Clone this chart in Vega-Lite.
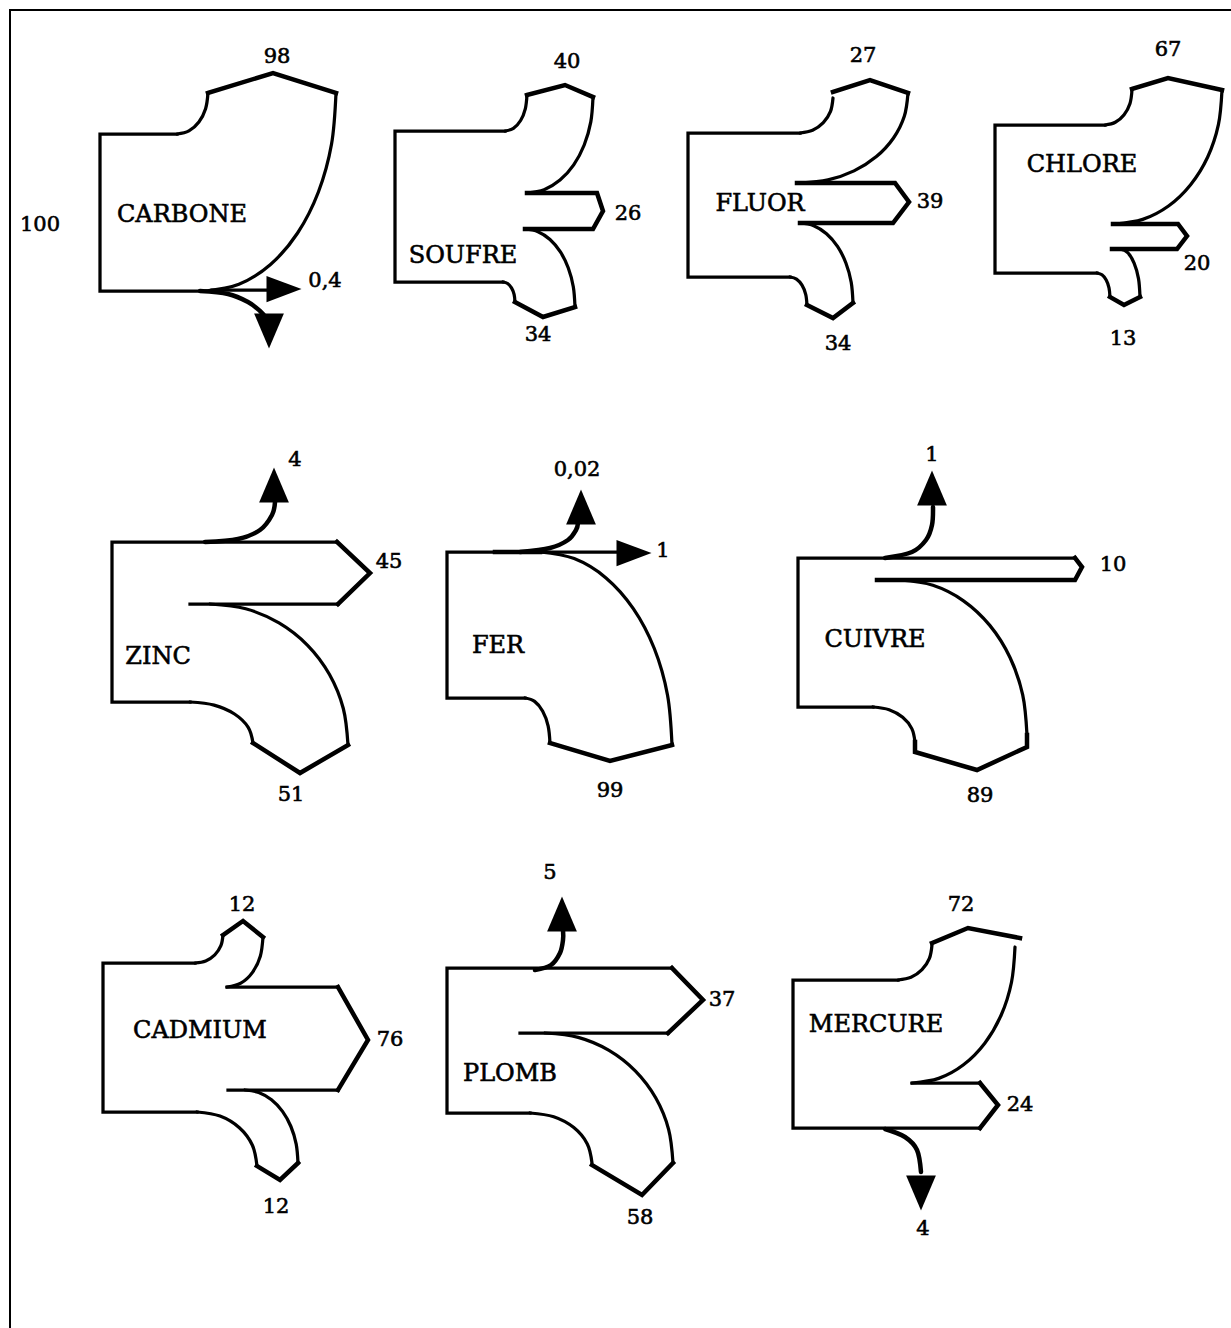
{
  "$schema": "https://vega.github.io/schema/vega-lite/v6.json",
  "width": 1231,
  "height": 1328,
  "autosize": "none",
  "padding": 0,
  "background": "white",
  "config": {"view": {"stroke": null}},
  "datasets": {
    "edges": [
      {"id":"fr","r":"frame","o":1,"x":10,"y":1328},{"id":"fr","r":"frame","o":2,"x":10,"y":10},{"id":"fr","r":"frame","o":3,"x":1231,"y":10},

      {"id":"c1","r":"body","o":1,"x":177,"y":134},{"id":"c1","r":"body","o":2,"x":100,"y":134},{"id":"c1","r":"body","o":3,"x":100,"y":291},{"id":"c1","r":"body","o":4,"x":205,"y":291},
      {"id":"c2","r":"flow","o":1,"x":208,"y":93},{"id":"c2","r":"flow","o":2,"x":273,"y":73},{"id":"c2","r":"flow","o":3,"x":336,"y":93},
      {"id":"c3","r":"body","o":1,"x":212,"y":290},{"id":"c3","r":"body","o":2,"x":280,"y":290},

      {"id":"s1","r":"body","o":1,"x":503,"y":282},{"id":"s1","r":"body","o":2,"x":395,"y":282},{"id":"s1","r":"body","o":3,"x":395,"y":131},{"id":"s1","r":"body","o":4,"x":505,"y":131},
      {"id":"s2","r":"flow","o":1,"x":527,"y":95},{"id":"s2","r":"flow","o":2,"x":565,"y":85},{"id":"s2","r":"flow","o":3,"x":593,"y":97},
      {"id":"s3","r":"flow","o":1,"x":527,"y":193},{"id":"s3","r":"flow","o":2,"x":597,"y":193},{"id":"s3","r":"flow","o":3,"x":603,"y":211},{"id":"s3","r":"flow","o":4,"x":593,"y":229},{"id":"s3","r":"flow","o":5,"x":525,"y":229},
      {"id":"s4","r":"flow","o":1,"x":575,"y":307},{"id":"s4","r":"flow","o":2,"x":543,"y":317},{"id":"s4","r":"flow","o":3,"x":515,"y":302},

      {"id":"f1","r":"body","o":1,"x":790,"y":277},{"id":"f1","r":"body","o":2,"x":688,"y":277},{"id":"f1","r":"body","o":3,"x":688,"y":133},{"id":"f1","r":"body","o":4,"x":800,"y":133},
      {"id":"f2","r":"flow","o":1,"x":833,"y":92},{"id":"f2","r":"flow","o":2,"x":870,"y":80},{"id":"f2","r":"flow","o":3,"x":908,"y":93},
      {"id":"f3","r":"flow","o":1,"x":797,"y":183},{"id":"f3","r":"flow","o":2,"x":895,"y":183},{"id":"f3","r":"flow","o":3,"x":909,"y":202},{"id":"f3","r":"flow","o":4,"x":893,"y":223},{"id":"f3","r":"flow","o":5,"x":800,"y":223},
      {"id":"f4","r":"flow","o":1,"x":853,"y":303},{"id":"f4","r":"flow","o":2,"x":833,"y":318},{"id":"f4","r":"flow","o":3,"x":807,"y":305},

      {"id":"h1","r":"body","o":1,"x":1097,"y":273},{"id":"h1","r":"body","o":2,"x":995,"y":273},{"id":"h1","r":"body","o":3,"x":995,"y":125},{"id":"h1","r":"body","o":4,"x":1105,"y":125},
      {"id":"h2","r":"flow","o":1,"x":1132,"y":89},{"id":"h2","r":"flow","o":2,"x":1168,"y":78},{"id":"h2","r":"flow","o":3,"x":1222,"y":90},
      {"id":"h3","r":"flow","o":1,"x":1113,"y":224},{"id":"h3","r":"flow","o":2,"x":1178,"y":224},{"id":"h3","r":"flow","o":3,"x":1187,"y":236},{"id":"h3","r":"flow","o":4,"x":1177,"y":249},{"id":"h3","r":"flow","o":5,"x":1112,"y":249},
      {"id":"h4","r":"flow","o":1,"x":1140,"y":297},{"id":"h4","r":"flow","o":2,"x":1124,"y":305},{"id":"h4","r":"flow","o":3,"x":1110,"y":297},

      {"id":"z1","r":"body","o":1,"x":190,"y":702},{"id":"z1","r":"body","o":2,"x":112,"y":702},{"id":"z1","r":"body","o":3,"x":112,"y":542},{"id":"z1","r":"body","o":4,"x":337,"y":542},
      {"id":"z2","r":"flow","o":1,"x":337,"y":542},{"id":"z2","r":"flow","o":2,"x":370,"y":573},{"id":"z2","r":"flow","o":3,"x":338,"y":604},
      {"id":"z3","r":"body","o":1,"x":338,"y":604},{"id":"z3","r":"body","o":2,"x":190,"y":604},
      {"id":"z4","r":"flow","o":1,"x":348,"y":745},{"id":"z4","r":"flow","o":2,"x":300,"y":773},{"id":"z4","r":"flow","o":3,"x":253,"y":743},

      {"id":"e1","r":"body","o":1,"x":525,"y":698},{"id":"e1","r":"body","o":2,"x":447,"y":698},{"id":"e1","r":"body","o":3,"x":447,"y":552},{"id":"e1","r":"body","o":4,"x":540,"y":552},
      {"id":"e2","r":"flow","o":1,"x":495,"y":552},{"id":"e2","r":"flow","o":2,"x":540,"y":552},
      {"id":"e3","r":"body","o":1,"x":535,"y":552},{"id":"e3","r":"body","o":2,"x":622,"y":552},
      {"id":"e4","r":"flow","o":1,"x":672,"y":745},{"id":"e4","r":"flow","o":2,"x":610,"y":761},{"id":"e4","r":"flow","o":3,"x":550,"y":743},

      {"id":"u1","r":"body","o":1,"x":873,"y":707},{"id":"u1","r":"body","o":2,"x":798,"y":707},{"id":"u1","r":"body","o":3,"x":798,"y":558},{"id":"u1","r":"body","o":4,"x":1075,"y":558},
      {"id":"u2","r":"flow","o":1,"x":1075,"y":558},{"id":"u2","r":"flow","o":2,"x":1082,"y":567},{"id":"u2","r":"flow","o":3,"x":1075,"y":580},{"id":"u2","r":"flow","o":4,"x":877,"y":580},
      {"id":"u3","r":"flow","o":1,"x":1027,"y":735},{"id":"u3","r":"flow","o":2,"x":1027,"y":747},{"id":"u3","r":"flow","o":3,"x":977,"y":770},{"id":"u3","r":"flow","o":4,"x":915,"y":752},{"id":"u3","r":"flow","o":5,"x":915,"y":742},

      {"id":"d1","r":"body","o":1,"x":197,"y":1112},{"id":"d1","r":"body","o":2,"x":103,"y":1112},{"id":"d1","r":"body","o":3,"x":103,"y":963},{"id":"d1","r":"body","o":4,"x":195,"y":963},
      {"id":"d2","r":"flow","o":1,"x":223,"y":935},{"id":"d2","r":"flow","o":2,"x":243,"y":921},{"id":"d2","r":"flow","o":3,"x":263,"y":937},
      {"id":"d3","r":"body","o":1,"x":227,"y":987},{"id":"d3","r":"body","o":2,"x":338,"y":987},
      {"id":"d4","r":"flow","o":1,"x":338,"y":987},{"id":"d4","r":"flow","o":2,"x":368,"y":1040},{"id":"d4","r":"flow","o":3,"x":338,"y":1090},
      {"id":"d5","r":"body","o":1,"x":338,"y":1090},{"id":"d5","r":"body","o":2,"x":228,"y":1090},
      {"id":"d6","r":"flow","o":1,"x":298,"y":1163},{"id":"d6","r":"flow","o":2,"x":280,"y":1180},{"id":"d6","r":"flow","o":3,"x":257,"y":1166},

      {"id":"p1","r":"body","o":1,"x":530,"y":1113},{"id":"p1","r":"body","o":2,"x":447,"y":1113},{"id":"p1","r":"body","o":3,"x":447,"y":968},{"id":"p1","r":"body","o":4,"x":672,"y":968},
      {"id":"p2","r":"flow","o":1,"x":672,"y":968},{"id":"p2","r":"flow","o":2,"x":703,"y":1000},{"id":"p2","r":"flow","o":3,"x":668,"y":1033},
      {"id":"p3","r":"body","o":1,"x":668,"y":1033},{"id":"p3","r":"body","o":2,"x":520,"y":1033},
      {"id":"p4","r":"flow","o":1,"x":673,"y":1163},{"id":"p4","r":"flow","o":2,"x":642,"y":1195},{"id":"p4","r":"flow","o":3,"x":592,"y":1165},

      {"id":"m1","r":"body","o":1,"x":898,"y":980},{"id":"m1","r":"body","o":2,"x":793,"y":980},{"id":"m1","r":"body","o":3,"x":793,"y":1128},{"id":"m1","r":"body","o":4,"x":980,"y":1128},
      {"id":"m2","r":"flow","o":1,"x":932,"y":943},{"id":"m2","r":"flow","o":2,"x":968,"y":928},{"id":"m2","r":"flow","o":3,"x":1020,"y":938},
      {"id":"m3","r":"body","o":1,"x":912,"y":1083},{"id":"m3","r":"body","o":2,"x":980,"y":1083},
      {"id":"m4","r":"flow","o":1,"x":980,"y":1083},{"id":"m4","r":"flow","o":2,"x":998,"y":1105},{"id":"m4","r":"flow","o":3,"x":980,"y":1128}
    ],
    "arcs": [
      {"id":"ca1","r":"body","o":1,"x":177,"y":134},{"id":"ca1","r":"body","o":2,"x":188.9,"y":130.9},{"id":"ca1","r":"body","o":3,"x":198.9,"y":122},{"id":"ca1","r":"body","o":4,"x":205.6,"y":108.7},{"id":"ca1","r":"body","o":5,"x":208,"y":93},
      {"id":"ca2","r":"body","o":1,"x":205,"y":291},{"id":"ca2","r":"body","o":2,"x":238.9,"y":284.3},{"id":"ca2","r":"body","o":3,"x":270.5,"y":264.5},{"id":"ca2","r":"body","o":4,"x":297.6,"y":233},{"id":"ca2","r":"body","o":5,"x":318.4,"y":192},{"id":"ca2","r":"body","o":6,"x":331.5,"y":144.3},{"id":"ca2","r":"body","o":7,"x":336,"y":93},
      {"id":"ca3","r":"flow","o":1,"x":200,"y":291},{"id":"ca3","r":"flow","o":2,"x":228,"y":294},{"id":"ca3","r":"flow","o":3,"x":248,"y":302},{"id":"ca3","r":"flow","o":4,"x":260,"y":311},{"id":"ca3","r":"flow","o":5,"x":266,"y":318},

      {"id":"sa1","r":"body","o":1,"x":505,"y":131},{"id":"sa1","r":"body","o":2,"x":513.4,"y":128.3},{"id":"sa1","r":"body","o":3,"x":520.6,"y":120.5},{"id":"sa1","r":"body","o":4,"x":525.3,"y":108.8},{"id":"sa1","r":"body","o":5,"x":527,"y":95},
      {"id":"sa2","r":"body","o":1,"x":527,"y":193},{"id":"sa2","r":"body","o":2,"x":544.1,"y":189.7},{"id":"sa2","r":"body","o":3,"x":560,"y":180.1},{"id":"sa2","r":"body","o":4,"x":573.7,"y":164.9},{"id":"sa2","r":"body","o":5,"x":584.2,"y":145},{"id":"sa2","r":"body","o":6,"x":590.8,"y":121.9},{"id":"sa2","r":"body","o":7,"x":593,"y":97},
      {"id":"sa3","r":"body","o":1,"x":525,"y":229},{"id":"sa3","r":"body","o":2,"x":538,"y":231.7},{"id":"sa3","r":"body","o":3,"x":550,"y":239.5},{"id":"sa3","r":"body","o":4,"x":560.4,"y":251.9},{"id":"sa3","r":"body","o":5,"x":568.3,"y":268},{"id":"sa3","r":"body","o":6,"x":573.3,"y":286.8},{"id":"sa3","r":"body","o":7,"x":575,"y":307},
      {"id":"sa4","r":"body","o":1,"x":503,"y":282},{"id":"sa4","r":"body","o":2,"x":507.6,"y":283.5},{"id":"sa4","r":"body","o":3,"x":511.5,"y":287.9},{"id":"sa4","r":"body","o":4,"x":514.1,"y":294.3},{"id":"sa4","r":"body","o":5,"x":515,"y":302},

      {"id":"fa1","r":"body","o":1,"x":800,"y":133},{"id":"fa1","r":"body","o":2,"x":812.6,"y":130.3},{"id":"fa1","r":"body","o":3,"x":823.3,"y":122.7},{"id":"fa1","r":"body","o":4,"x":830.5,"y":111.4},{"id":"fa1","r":"body","o":5,"x":833,"y":98},
      {"id":"fa2","r":"body","o":1,"x":800,"y":183},{"id":"fa2","r":"body","o":2,"x":828,"y":179.9},{"id":"fa2","r":"body","o":3,"x":854,"y":170.9},{"id":"fa2","r":"body","o":4,"x":876.4,"y":156.6},{"id":"fa2","r":"body","o":5,"x":893.5,"y":138},{"id":"fa2","r":"body","o":6,"x":904.3,"y":116.3},{"id":"fa2","r":"body","o":7,"x":908,"y":93},
      {"id":"fa3","r":"body","o":1,"x":800,"y":223},{"id":"fa3","r":"body","o":2,"x":813.7,"y":225.7},{"id":"fa3","r":"body","o":3,"x":826.5,"y":233.7},{"id":"fa3","r":"body","o":4,"x":837.5,"y":246.4},{"id":"fa3","r":"body","o":5,"x":845.9,"y":263},{"id":"fa3","r":"body","o":6,"x":851.2,"y":282.3},{"id":"fa3","r":"body","o":7,"x":853,"y":303},
      {"id":"fa4","r":"body","o":1,"x":790,"y":277},{"id":"fa4","r":"body","o":2,"x":796.5,"y":279.1},{"id":"fa4","r":"body","o":3,"x":802,"y":285.2},{"id":"fa4","r":"body","o":4,"x":805.7,"y":294.3},{"id":"fa4","r":"body","o":5,"x":807,"y":305},

      {"id":"ha1","r":"body","o":1,"x":1105,"y":125},{"id":"ha1","r":"body","o":2,"x":1115.3,"y":122.3},{"id":"ha1","r":"body","o":3,"x":1124.1,"y":114.7},{"id":"ha1","r":"body","o":4,"x":1130,"y":103.4},{"id":"ha1","r":"body","o":5,"x":1132,"y":90},
      {"id":"ha2","r":"body","o":1,"x":1115,"y":224},{"id":"ha2","r":"body","o":2,"x":1142.7,"y":219.4},{"id":"ha2","r":"body","o":3,"x":1168.5,"y":206},{"id":"ha2","r":"body","o":4,"x":1190.6,"y":184.7},{"id":"ha2","r":"body","o":5,"x":1207.7,"y":157},{"id":"ha2","r":"body","o":6,"x":1218.4,"y":124.7},{"id":"ha2","r":"body","o":7,"x":1222,"y":90},
      {"id":"ha3","r":"body","o":1,"x":1120,"y":249},{"id":"ha3","r":"body","o":2,"x":1127.7,"y":252.6},{"id":"ha3","r":"body","o":3,"x":1134.1,"y":263.1},{"id":"ha3","r":"body","o":4,"x":1138.5,"y":278.6},{"id":"ha3","r":"body","o":5,"x":1140,"y":297},
      {"id":"ha4","r":"body","o":1,"x":1097,"y":273},{"id":"ha4","r":"body","o":2,"x":1102,"y":274.8},{"id":"ha4","r":"body","o":3,"x":1106.2,"y":280},{"id":"ha4","r":"body","o":4,"x":1109,"y":287.8},{"id":"ha4","r":"body","o":5,"x":1110,"y":297},

      {"id":"za1","r":"flow","o":1,"x":205,"y":542},{"id":"za1","r":"flow","o":2,"x":238,"y":539},{"id":"za1","r":"flow","o":3,"x":260,"y":530},{"id":"za1","r":"flow","o":4,"x":272,"y":515},{"id":"za1","r":"flow","o":5,"x":275,"y":502},
      {"id":"za2","r":"body","o":1,"x":210,"y":604},{"id":"za2","r":"body","o":2,"x":245.7,"y":608.8},{"id":"za2","r":"body","o":3,"x":279,"y":622.9},{"id":"za2","r":"body","o":4,"x":307.6,"y":645.3},{"id":"za2","r":"body","o":5,"x":329.5,"y":674.5},{"id":"za2","r":"body","o":6,"x":343.3,"y":708.5},{"id":"za2","r":"body","o":7,"x":348,"y":745},
      {"id":"za3","r":"body","o":1,"x":190,"y":702},{"id":"za3","r":"body","o":2,"x":214.1,"y":705.1},{"id":"za3","r":"body","o":3,"x":234.5,"y":714},{"id":"za3","r":"body","o":4,"x":248.2,"y":727.3},{"id":"za3","r":"body","o":5,"x":253,"y":743},

      {"id":"ea1","r":"flow","o":1,"x":520,"y":552},{"id":"ea1","r":"flow","o":2,"x":550,"y":548},{"id":"ea1","r":"flow","o":3,"x":568,"y":540},{"id":"ea1","r":"flow","o":4,"x":576,"y":530},{"id":"ea1","r":"flow","o":5,"x":578,"y":523},
      {"id":"ea2","r":"body","o":1,"x":540,"y":552},{"id":"ea2","r":"body","o":2,"x":574.2,"y":558.6},{"id":"ea2","r":"body","o":3,"x":606,"y":577.9},{"id":"ea2","r":"body","o":4,"x":633.3,"y":608.6},{"id":"ea2","r":"body","o":5,"x":654.3,"y":648.5},{"id":"ea2","r":"body","o":6,"x":667.5,"y":695},{"id":"ea2","r":"body","o":7,"x":672,"y":745},
      {"id":"ea3","r":"body","o":1,"x":525,"y":698},{"id":"ea3","r":"body","o":2,"x":534.6,"y":701.4},{"id":"ea3","r":"body","o":3,"x":542.7,"y":711.2},{"id":"ea3","r":"body","o":4,"x":548.1,"y":725.8},{"id":"ea3","r":"body","o":5,"x":550,"y":743},

      {"id":"ua1","r":"flow","o":1,"x":885,"y":558},{"id":"ua1","r":"flow","o":2,"x":912,"y":552},{"id":"ua1","r":"flow","o":3,"x":926,"y":540},{"id":"ua1","r":"flow","o":4,"x":932,"y":525},{"id":"ua1","r":"flow","o":5,"x":933,"y":507},
      {"id":"ua2","r":"body","o":1,"x":900,"y":580},{"id":"ua2","r":"body","o":2,"x":932.9,"y":585.3},{"id":"ua2","r":"body","o":3,"x":963.5,"y":600.8},{"id":"ua2","r":"body","o":4,"x":989.8,"y":625.4},{"id":"ua2","r":"body","o":5,"x":1010,"y":657.5},{"id":"ua2","r":"body","o":6,"x":1022.7,"y":694.9},{"id":"ua2","r":"body","o":7,"x":1027,"y":735},
      {"id":"ua3","r":"body","o":1,"x":873,"y":707},{"id":"ua3","r":"body","o":2,"x":889.1,"y":709.7},{"id":"ua3","r":"body","o":3,"x":902.7,"y":717.3},{"id":"ua3","r":"body","o":4,"x":911.8,"y":728.6},{"id":"ua3","r":"body","o":5,"x":915,"y":742},

      {"id":"da1","r":"body","o":1,"x":195,"y":963},{"id":"da1","r":"body","o":2,"x":205.7,"y":960.9},{"id":"da1","r":"body","o":3,"x":214.8,"y":954.8},{"id":"da1","r":"body","o":4,"x":220.9,"y":945.7},{"id":"da1","r":"body","o":5,"x":223,"y":935},
      {"id":"da2","r":"body","o":1,"x":227,"y":987},{"id":"da2","r":"body","o":2,"x":240.8,"y":983.2},{"id":"da2","r":"body","o":3,"x":252.5,"y":972.4},{"id":"da2","r":"body","o":4,"x":260.3,"y":956.2},{"id":"da2","r":"body","o":5,"x":263,"y":937},
      {"id":"da3","r":"body","o":1,"x":245,"y":1090},{"id":"da3","r":"body","o":2,"x":258.7,"y":1092.5},{"id":"da3","r":"body","o":3,"x":271.5,"y":1099.8},{"id":"da3","r":"body","o":4,"x":282.5,"y":1111.4},{"id":"da3","r":"body","o":5,"x":290.9,"y":1126.5},{"id":"da3","r":"body","o":6,"x":296.2,"y":1144.1},{"id":"da3","r":"body","o":7,"x":298,"y":1163},
      {"id":"da4","r":"body","o":1,"x":197,"y":1112},{"id":"da4","r":"body","o":2,"x":220,"y":1116.1},{"id":"da4","r":"body","o":3,"x":239.4,"y":1127.8},{"id":"da4","r":"body","o":4,"x":252.4,"y":1145.3},{"id":"da4","r":"body","o":5,"x":257,"y":1166},

      {"id":"pa1","r":"flow","o":1,"x":535,"y":970},{"id":"pa1","r":"flow","o":2,"x":551,"y":965},{"id":"pa1","r":"flow","o":3,"x":560,"y":953},{"id":"pa1","r":"flow","o":4,"x":563,"y":940},{"id":"pa1","r":"flow","o":5,"x":563,"y":930},
      {"id":"pa2","r":"body","o":1,"x":545,"y":1033},{"id":"pa2","r":"body","o":2,"x":578.2,"y":1037.4},{"id":"pa2","r":"body","o":3,"x":609,"y":1050.4},{"id":"pa2","r":"body","o":4,"x":635.5,"y":1071.1},{"id":"pa2","r":"body","o":5,"x":655.8,"y":1098},{"id":"pa2","r":"body","o":6,"x":668.6,"y":1129.3},{"id":"pa2","r":"body","o":7,"x":673,"y":1163},
      {"id":"pa3","r":"body","o":1,"x":530,"y":1113},{"id":"pa3","r":"body","o":2,"x":553.7,"y":1116.8},{"id":"pa3","r":"body","o":3,"x":573.8,"y":1127.6},{"id":"pa3","r":"body","o":4,"x":587.3,"y":1143.9},{"id":"pa3","r":"body","o":5,"x":592,"y":1163},

      {"id":"ma1","r":"body","o":1,"x":898,"y":980},{"id":"ma1","r":"body","o":2,"x":911,"y":977.3},{"id":"ma1","r":"body","o":3,"x":922,"y":969.7},{"id":"ma1","r":"body","o":4,"x":929.4,"y":958.4},{"id":"ma1","r":"body","o":5,"x":932,"y":945},
      {"id":"ma2","r":"body","o":1,"x":912,"y":1083},{"id":"ma2","r":"body","o":2,"x":938.7,"y":1078.4},{"id":"ma2","r":"body","o":3,"x":963.5,"y":1064.8},{"id":"ma2","r":"body","o":4,"x":984.8,"y":1043.2},{"id":"ma2","r":"body","o":5,"x":1001.2,"y":1015},{"id":"ma2","r":"body","o":6,"x":1011.5,"y":982.2},{"id":"ma2","r":"body","o":7,"x":1015,"y":947},
      {"id":"ma3","r":"flow","o":1,"x":885,"y":1129},{"id":"ma3","r":"flow","o":2,"x":905,"y":1137},{"id":"ma3","r":"flow","o":3,"x":917,"y":1150},{"id":"ma3","r":"flow","o":4,"x":921,"y":1172}
    ],
    "heads": [
      {"x":284,"y":289,"dir":"right"},
      {"x":269,"y":331,"dir":"down"},
      {"x":274,"y":485,"dir":"up"},
      {"x":581,"y":507,"dir":"up"},
      {"x":634,"y":553,"dir":"right"},
      {"x":932,"y":488,"dir":"up"},
      {"x":562,"y":914,"dir":"up"},
      {"x":921,"y":1193,"dir":"down"}
    ],
    "labels": [
      {"t":"CARBONE","k":"name","x":182,"y":215},
      {"t":"98","k":"value","x":277,"y":57},
      {"t":"100","k":"value","x":40,"y":225},
      {"t":"0,4","k":"value","x":325,"y":281},
      {"t":"SOUFRE","k":"name","x":463,"y":256},
      {"t":"40","k":"value","x":567,"y":62},
      {"t":"26","k":"value","x":628,"y":214},
      {"t":"34","k":"value","x":538,"y":335},
      {"t":"FLUOR","k":"name","x":760,"y":204},
      {"t":"27","k":"value","x":863,"y":56},
      {"t":"39","k":"value","x":930,"y":202},
      {"t":"34","k":"value","x":838,"y":344},
      {"t":"CHLORE","k":"name","x":1082,"y":165},
      {"t":"67","k":"value","x":1168,"y":50},
      {"t":"20","k":"value","x":1197,"y":264},
      {"t":"13","k":"value","x":1123,"y":339},
      {"t":"ZINC","k":"name","x":158,"y":657},
      {"t":"4","k":"value","x":295,"y":460},
      {"t":"45","k":"value","x":389,"y":562},
      {"t":"51","k":"value","x":291,"y":795},
      {"t":"FER","k":"name","x":498,"y":646},
      {"t":"0,02","k":"value","x":577,"y":470},
      {"t":"1","k":"value","x":663,"y":551},
      {"t":"99","k":"value","x":610,"y":791},
      {"t":"CUIVRE","k":"name","x":875,"y":640},
      {"t":"1","k":"value","x":932,"y":455},
      {"t":"10","k":"value","x":1113,"y":565},
      {"t":"89","k":"value","x":980,"y":796},
      {"t":"CADMIUM","k":"name","x":200,"y":1031},
      {"t":"12","k":"value","x":242,"y":905},
      {"t":"76","k":"value","x":390,"y":1040},
      {"t":"12","k":"value","x":276,"y":1207},
      {"t":"PLOMB","k":"name","x":510,"y":1074},
      {"t":"5","k":"value","x":550,"y":873},
      {"t":"37","k":"value","x":722,"y":1000},
      {"t":"58","k":"value","x":640,"y":1218},
      {"t":"MERCURE","k":"name","x":876,"y":1025},
      {"t":"72","k":"value","x":961,"y":905},
      {"t":"24","k":"value","x":1020,"y":1105},
      {"t":"4","k":"value","x":923,"y":1229}
    ]
  },
  "layer": [
    {
      "data": {"name": "edges"},
      "mark": {"type": "line", "color": "#000", "strokeJoin": "miter", "strokeCap": "square", "interpolate": "linear"},
      "encoding": {
        "x": {"field": "x", "type": "quantitative", "scale": {"domain": [0, 1231], "nice": false, "zero": false}, "axis": null},
        "y": {"field": "y", "type": "quantitative", "scale": {"domain": [0, 1328], "nice": false, "zero": false, "reverse": true}, "axis": null},
        "detail": {"field": "id", "type": "nominal"},
        "order": {"field": "o", "type": "quantitative"},
        "strokeWidth": {"field": "r", "type": "nominal", "scale": {"domain": ["frame", "body", "flow"], "range": [2, 4.5, 7]}, "legend": null}
      }
    },
    {
      "data": {"name": "arcs"},
      "mark": {"type": "line", "color": "#000", "strokeCap": "round", "interpolate": "cardinal"},
      "encoding": {
        "x": {"field": "x", "type": "quantitative", "scale": {"domain": [0, 1231], "nice": false, "zero": false}, "axis": null},
        "y": {"field": "y", "type": "quantitative", "scale": {"domain": [0, 1328], "nice": false, "zero": false, "reverse": true}, "axis": null},
        "detail": {"field": "id", "type": "nominal"},
        "order": {"field": "o", "type": "quantitative"},
        "strokeWidth": {"field": "r", "type": "nominal", "scale": {"domain": ["frame", "body", "flow"], "range": [2, 4.5, 7]}, "legend": null}
      }
    },
    {
      "data": {"name": "heads"},
      "mark": {"type": "point", "filled": true, "color": "#000", "opacity": 1, "size": 1225, "strokeWidth": 0},
      "encoding": {
        "x": {"field": "x", "type": "quantitative", "axis": null},
        "y": {"field": "y", "type": "quantitative", "axis": null},
        "shape": {"field": "dir", "type": "nominal", "scale": {"domain": ["up", "down", "right"], "range": ["M0,-1L0.85,1L-0.85,1Z", "M0,1L0.85,-1L-0.85,-1Z", "M1,0L-1,0.75L-1,-0.75Z"]}, "legend": null}
      }
    },
    {
      "data": {"name": "labels"},
      "mark": {"type": "text", "font": "DejaVu Serif", "color": "#000", "stroke": "#000", "strokeWidth": 0.6, "align": "center", "baseline": "middle"},
      "encoding": {
        "x": {"field": "x", "type": "quantitative", "axis": null},
        "y": {"field": "y", "type": "quantitative", "axis": null},
        "text": {"field": "t", "type": "nominal"},
        "size": {"field": "k", "type": "nominal", "scale": {"domain": ["name", "value"], "range": [24, 21]}, "legend": null}
      }
    }
  ]
}
